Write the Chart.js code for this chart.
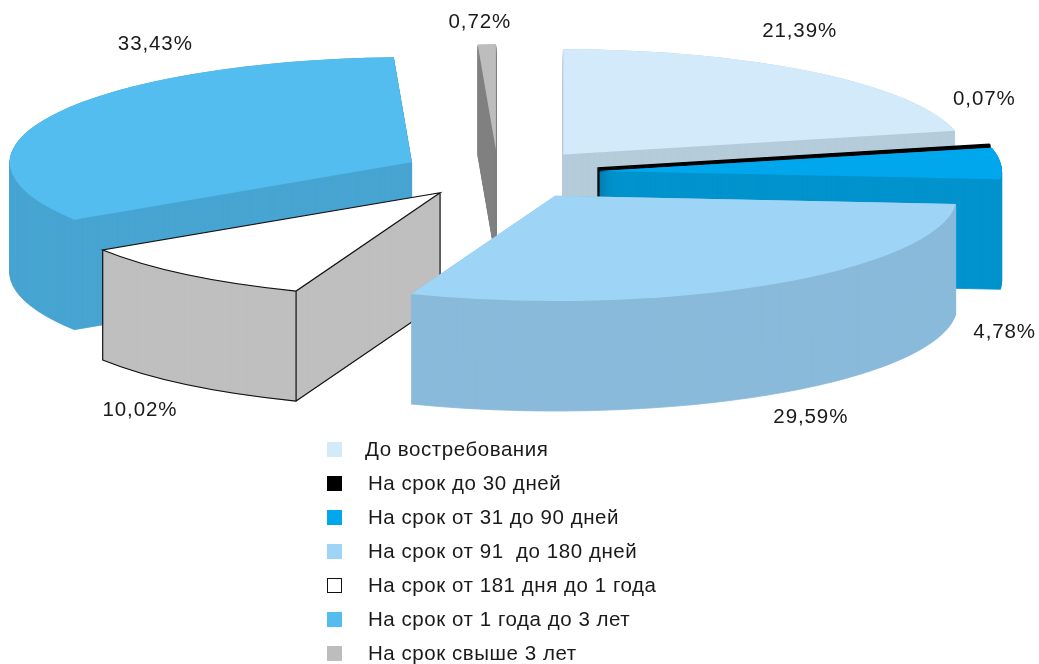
<!DOCTYPE html>
<html lang="ru">
<head>
<meta charset="utf-8">
<title>Структура по срокам</title>
<script src="https://cdn.jsdelivr.net/npm/chart.js@4"></script>
<style>
  html, body { margin: 0; padding: 0; background: #fff; }
  #wrap { position: relative; width: 1039px; height: 664px; overflow: hidden; }
  #legend { position: absolute; left: 327px; top: 432px; margin: 0; padding: 0; list-style: none;
            font: 20.5px "Liberation Sans", Arial, sans-serif; letter-spacing: 0.55px; color: #1a1a1a; }
  #legend li { height: 34px; line-height: 34px; white-space: pre; position: relative; padding-left: 41px; }
  #legend i { position: absolute; left: 0; top: 10px; width: 15px; height: 15px; box-sizing: border-box; }
</style>
</head>
<body>
<div id="wrap">
  <canvas id="chart" width="1039" height="664"></canvas>
  <ul id="legend"></ul>
</div>
<script>
const categories = ['До востребования', 'На срок до 30 дней', 'На срок от 31 до 90 дней', 'На срок от 91  до 180 дней',
                    'На срок от 181 дня до 1 года', 'На срок от 1 года до 3 лет', 'На срок свыше 3 лет'];
const shares = [21.39, 0.07, 4.78, 29.59, 10.02, 33.43, 0.72];
const topColors = ['#d3eafb', '#000000', '#00a7ec', '#9ed5f6', '#ffffff', '#53bdf0', '#bdbdbd'];
const sideColors = ['#b5ccda', '#000000', '#0093cd', '#8abada', '#bfbfbf', '#48a5d2', '#808080'];

// how far each slice is pulled out of the pie, and where its label sits relative to the rim
const explode = [105, 102, 102, 107, 92, 97, 92];
const nudgeY = [2, 0, -1, -2, 0, 0, 0];
const labelShift = [[-14, -39], [-5, -45], [4, 168], [41, 131], [-47, 136], [101, -70], [-7, -22]];
const paintOrder = [6, 0, 1, 2, 5, 4, 3];

const centerX = 498, centerY = 174;
const tilt = 0.262;
const depth = 110;

const percentText = v => v.toFixed(2).replace('.', ',') + '%';

// the slice with black edges (white top)
function strokeEdges(ctx, arc, x, y) {
    const r = arc.outerRadius;
    const sx = Math.cos(arc.startAngle) * r, sy = Math.sin(arc.startAngle) * r * tilt;
    const ex = Math.cos(arc.endAngle) * r, ey = Math.sin(arc.endAngle) * r * tilt;
    ctx.save();
    ctx.strokeStyle = '#111';
    ctx.lineWidth = 1.2;
    ctx.beginPath();
    ctx.moveTo(x, y);
    ctx.ellipse(x, y, r, r * tilt, 0, arc.startAngle, arc.endAngle);
    ctx.closePath();
    ctx.moveTo(x + sx, y + sy);
    ctx.lineTo(x + sx, y + sy + depth);
    ctx.ellipse(x, y + depth, r, r * tilt, 0, arc.startAngle, arc.endAngle);
    ctx.lineTo(x + ex, y + ey);
    ctx.moveTo(x, y);
    ctx.lineTo(x, y + depth);
    ctx.lineTo(x + sx, y + sy + depth);
    ctx.stroke();
    ctx.restore();
}

const pie3d = {
    id: 'pie3d',
    beforeDatasetsDraw(chart) {
        const ctx = chart.ctx;
        const arcs = chart.getDatasetMeta(0).data;

        paintOrder.forEach(i => {
            const arc = arcs[i];
            const mid = (arc.startAngle + arc.endAngle) / 2;
            const x = centerX + Math.cos(mid) * explode[i];
            const y = centerY + Math.sin(mid) * explode[i] * tilt + nudgeY[i];

            // side walls: the wedge repeated downwards, stroked too so thin slices stay solid
            ctx.save();
            ctx.fillStyle = sideColors[i];
            ctx.strokeStyle = sideColors[i];
            ctx.lineWidth = shares[i] < 0.5 ? 1.6 : 0.8;
            for (let d = depth; d >= 0; d--) {
                ctx.save();
                ctx.translate(x, y + d);
                ctx.scale(1, tilt);
                ctx.beginPath();
                ctx.moveTo(0, 0);
                ctx.arc(0, 0, arc.outerRadius, arc.startAngle, arc.endAngle);
                ctx.closePath();
                ctx.fill();
                ctx.restore();
                if (d > 0 || shares[i] < 0.5) ctx.stroke();
            }
            ctx.restore();

            // top face, drawn by the arc element
            ctx.save();
            ctx.translate(x, y);
            ctx.scale(1, tilt);
            ctx.translate(-arc.x, -arc.y);
            arc.draw(ctx);
            ctx.restore();

            if (topColors[i] === '#ffffff') strokeEdges(ctx, arc, x, y);
        });

        // percent labels
        ctx.save();
        ctx.font = '20.5px "Liberation Sans", Arial, sans-serif';
        ctx.letterSpacing = '0.9px';
        ctx.fillStyle = '#1a1a1a';
        ctx.textAlign = 'center';
        ctx.textBaseline = 'middle';
        arcs.forEach((arc, i) => {
            const mid = (arc.startAngle + arc.endAngle) / 2;
            const reach = arc.outerRadius + explode[i];
            ctx.fillText(percentText(shares[i]),
                centerX + Math.cos(mid) * reach + labelShift[i][0],
                centerY + Math.sin(mid) * reach * tilt + labelShift[i][1]);
        });
        ctx.restore();
        return false;
    }
};

new Chart(document.getElementById('chart'), {
    type: 'pie',
    data: {
        labels: categories,
        datasets: [{ data: shares, backgroundColor: topColors, borderWidth: 0 }]
    },
    options: {
        responsive: false,
        animation: false,
        radius: 402,
        events: [],
        plugins: { legend: { display: false }, tooltip: { enabled: false } }
    },
    plugins: [pie3d]
});

// legend
const legend = document.getElementById('legend');
categories.forEach((name, i) => {
    const li = document.createElement('li');
    const box = document.createElement('i');
    box.style.background = topColors[i];
    if (topColors[i] === '#ffffff') box.style.border = '1px solid #111';
    li.appendChild(box);
    li.appendChild(document.createTextNode(name));
    if (i === 0) li.style.paddingLeft = '38px';
    legend.appendChild(li);
});
</script>
</body>
</html>
